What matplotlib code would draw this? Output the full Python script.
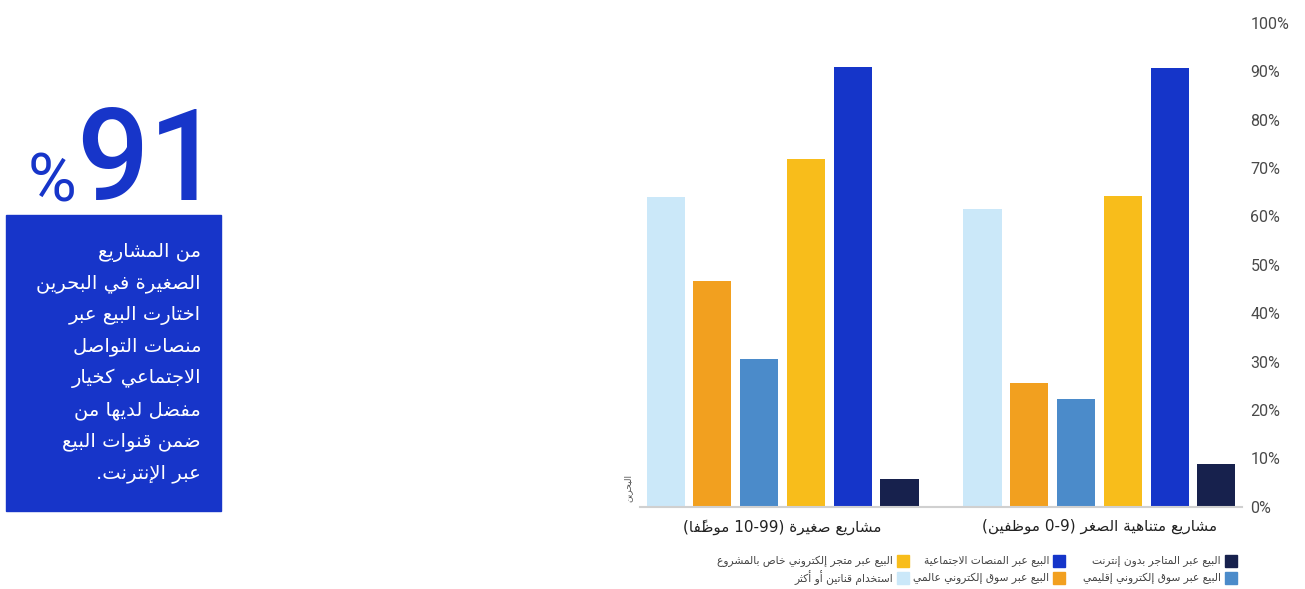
import re
import numpy as np
import matplotlib
matplotlib.use('Agg')
import matplotlib.pyplot as plt
from matplotlib.patches import Rectangle

# data (percent)
categories = ['مشاريع متناهية الصغر (0-9 موظفين)', 'مشاريع صغيرة (10-99 موظفًا)']
series_names = ['البيع عبر المتاجر بدون إنترنت',
                'البيع عبر المنصات الاجتماعية',
                'البيع عبر متجر إلكتروني خاص بالمشروع',
                'البيع عبر سوق إلكتروني إقليمي',
                'البيع عبر سوق إلكتروني عالمي',
                'استخدام قناتين أو أكثر']
offline = [8.8, 5.7]
social = [90.7, 90.9]
own_store = [64.2, 71.8]
regional = [22.3, 30.5]
global_mkt = [25.6, 46.6]
multi = [61.6, 63.9]
colors = ['#17214d', '#1535c9', '#f8bd1b', '#4b8bca', '#f2a01f', '#cbe8f9']

ytick_vals = np.arange(0, 101, 10)
ylabel = 'البحرين'
headline = '91'
box_lines = ['من المشاريع', 'الصغيرة في البحرين', 'اختارت البيع عبر',
             'منصات التواصل', 'الاجتماعي كخيار', 'مفضل لديها من',
             'ضمن قنوات البيع', 'عبر الإنترنت.']

# --- tiny arabic shaper (matplotlib has no shaping / bidi) ---
FORMS = {'ء': (0xFE80, 1), 'آ': (0xFE81, 2), 'أ': (0xFE83, 2), 'ؤ': (0xFE85, 2),
         'إ': (0xFE87, 2), 'ئ': (0xFE89, 4), 'ا': (0xFE8D, 2), 'ب': (0xFE8F, 4),
         'ة': (0xFE93, 2), 'ت': (0xFE95, 4), 'ث': (0xFE99, 4), 'ج': (0xFE9D, 4),
         'ح': (0xFEA1, 4), 'خ': (0xFEA5, 4), 'د': (0xFEA9, 2), 'ذ': (0xFEAB, 2),
         'ر': (0xFEAD, 2), 'ز': (0xFEAF, 2), 'س': (0xFEB1, 4), 'ش': (0xFEB5, 4),
         'ص': (0xFEB9, 4), 'ض': (0xFEBD, 4), 'ط': (0xFEC1, 4), 'ظ': (0xFEC5, 4),
         'ع': (0xFEC9, 4), 'غ': (0xFECD, 4), 'ف': (0xFED1, 4), 'ق': (0xFED5, 4),
         'ك': (0xFED9, 4), 'ل': (0xFEDD, 4), 'م': (0xFEE1, 4), 'ن': (0xFEE5, 4),
         'ه': (0xFEE9, 4), 'و': (0xFEED, 2), 'ى': (0xFEEF, 2), 'ي': (0xFEF1, 4)}
LAM_ALEF = {'ا': 0xFEFB, 'أ': 0xFEF7, 'إ': 0xFEF9, 'آ': 0xFEF5}
MARKS = set('\u064b\u064c\u064d\u064e\u064f\u0650\u0651\u0652')


def joins_next(b):
    return b in FORMS and FORMS[b][1] == 4


def joins_prev(b):
    return (b in FORMS and FORMS[b][1] > 1) or len(b) == 2


def ar(text):
    clusters = []
    for ch in text:
        if ch in MARKS and clusters:
            clusters[-1][1] += ch
        else:
            clusters.append([ch, ''])
    merged = []
    i = 0
    while i < len(clusters):
        c = clusters[i]
        if c[0] == 'ل' and i + 1 < len(clusters) and clusters[i + 1][0] in LAM_ALEF:
            merged.append(['ل' + clusters[i + 1][0], c[1] + clusters[i + 1][1]])
            i += 2
        else:
            merged.append(c)
            i += 1
    out = []
    for i, (b, m) in enumerate(merged):
        prev = merged[i - 1][0] if i > 0 else None
        nxt = merged[i + 1][0] if i + 1 < len(merged) else None
        p = prev is not None and joins_next(prev) and joins_prev(b)
        n = nxt is not None and joins_next(b) and joins_prev(nxt)
        if len(b) == 2:
            g = chr(LAM_ALEF[b[1]] + (1 if p else 0))
        elif b in FORMS:
            base, k = FORMS[b]
            if k == 1:
                g = chr(base)
            elif k == 2:
                g = chr(base + (1 if p else 0))
            else:
                g = chr(base + (3 if (p and n) else 2 if n else 1 if p else 0))
        else:
            g = b
        out.append(g + m)
    vis = ''.join(out[::-1])
    vis = re.sub(r'[0-9A-Za-z]+(?:[-.,][0-9A-Za-z]+)*', lambda mm: mm.group(0)[::-1], vis)
    vis = vis.translate(str.maketrans('()', ')('))
    return vis


AR_FONT = ['DejaVu Sans']

fig = plt.figure(figsize=(13.05, 5.89), dpi=100)
W, H = 1305, 589

ax = fig.add_axes([640 / W, 82.3 / H, 602 / W, 484 / H])

series = [offline, social, own_store, regional, global_mkt, multi]
x = np.arange(len(categories))
pitch = 0.1476
width = 0.12
for k, vals in enumerate(series):
    off = (k - 2.5) * pitch
    ax.bar(x + off, vals, width=width, color=colors[k], label=ar(series_names[k]))

ax.set_xlim(1.45, -0.45)
ax.set_ylim(0, 100)

ax.yaxis.tick_right()
ax.set_yticks(ytick_vals)
ax.set_yticklabels([f'{v}%' for v in ytick_vals], family='Roboto', fontsize=11.5, color='#4a4a4a')
ax.tick_params(axis='y', length=0, pad=6)

ax.set_xticks(x)
ax.set_xticklabels([ar(c) for c in categories], family=AR_FONT, fontsize=11, color='#222222')
ax.tick_params(axis='x', length=0, pad=9)

for s in ['top', 'left', 'right']:
    ax.spines[s].set_visible(False)
ax.spines['bottom'].set_color('#d0d0d0')
ax.spines['bottom'].set_linewidth(1.5)

ax.text(-0.02, 0.01, ar(ylabel), transform=ax.transAxes, rotation=90,
        ha='center', va='bottom', fontsize=6.5, color='#555555', family=AR_FONT)

# legend, right-to-left: marker on the right of each label
leg_cols = [1237, 1065, 909]
leg_rows = [561, 578]
order = [(0, 0), (0, 1), (0, 2), (1, 0), (1, 1), (1, 2)]
for k, (r, c) in enumerate(order):
    xr = leg_cols[c]
    yc = leg_rows[r]
    fig.patches.append(Rectangle(((xr - 12) / W, (H - yc - 6) / H), 12 / W, 12 / H,
                                 transform=fig.transFigure, color=colors[k]))
    fig.text((xr - 16) / W, (H - yc) / H, ar(series_names[k]), ha='right', va='center',
             fontsize=7.7, color='#444444', family=AR_FONT)

# left callout
box_blue = '#1735c9'
fig.text(221 / W, (H - 200) / H, headline, ha='right', va='baseline',
         fontsize=92, color=box_blue, family='Roboto', fontweight='medium')
fig.text(76 / W, (H - 202) / H, '%', ha='right', va='baseline',
         fontsize=48, color=box_blue, family='Roboto')
fig.patches.append(Rectangle((6 / W, (H - 511) / H), 215 / W, 296 / H,
                             transform=fig.transFigure, color=box_blue))
for i, line in enumerate(box_lines):
    fig.text(201 / W, (H - 252 - i * 31.6) / H, ar(line), ha='right', va='center',
             fontsize=14, color='white', family=AR_FONT)

fig.savefig('out.png', dpi=100)
